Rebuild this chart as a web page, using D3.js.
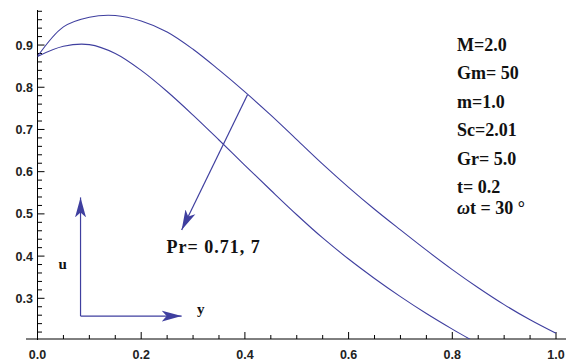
<!DOCTYPE html>
<html>
<head>
<meta charset="utf-8">
<script src="https://cdn.jsdelivr.net/npm/d3@7"></script>
<style>
  body { margin: 0; background: #fff; }
  svg { display: block; }
</style>
</head>
<body>
<div id="chart"></div>
<script>
// data
var yGrid = [0, 0.05, 0.1, 0.15, 0.2, 0.25, 0.3, 0.35, 0.4, 0.45, 0.5,
             0.55, 0.6, 0.65, 0.7, 0.75, 0.8, 0.85, 0.9, 0.95, 1.0];
var uPr071 = [0.873, 0.943, 0.966, 0.970, 0.957, 0.931, 0.890, 0.841, 0.789, 0.734, 0.676,
              0.618, 0.563, 0.511, 0.462, 0.414, 0.368, 0.325, 0.285, 0.249, 0.217];
var uPr7 = [0.873, 0.897, 0.901, 0.880, 0.840, 0.790, 0.734, 0.675, 0.615, 0.556, 0.498,
            0.443, 0.393, 0.347, 0.304, 0.264, 0.227, 0.192];
var xTicks = [0, 0.2, 0.4, 0.6, 0.8, 1.0];
var yTicks = [0.3, 0.4, 0.5, 0.6, 0.7, 0.8, 0.9];
var params = ['M=2.0', 'Gm= 50', 'm=1.0', 'Sc=2.01', 'Gr= 5.0', 't= 0.2'];

// annotation anchor points, in data units
var prArrow = [[0.405, 0.782], [0.278, 0.462]];
var uArrow = [[0.083, 0.258], [0.083, 0.539]];
var yArrow = [[0.083, 0.258], [0.278, 0.258]];

var W = 568, H = 363;
var margin = {top: 10, right: 12, bottom: 24, left: 37.5};

var x = d3.scaleLinear().domain([0, 1]).range([margin.left, W - margin.right]);
var y = d3.scaleLinear().domain([0.2036, 0.983]).range([H - margin.bottom, margin.top]);

var svg = d3.select('#chart').append('svg')
    .attr('width', W)
    .attr('height', H);

var curveColor = '#3f3f9f';

svg.append('defs').append('clipPath')
    .attr('id', 'plotClip')
    .append('rect')
    .attr('x', margin.left)
    .attr('y', margin.top)
    .attr('width', W - margin.left - margin.right + 2)
    .attr('height', H - margin.top - margin.bottom);

var head = svg.select('defs').append('marker')
    .attr('id', 'head')
    .attr('markerUnits', 'userSpaceOnUse')
    .attr('viewBox', '-20 -7 22 14')
    .attr('markerWidth', 22)
    .attr('markerHeight', 14)
    .attr('refX', 0)
    .attr('refY', 0)
    .attr('orient', 'auto');
head.append('path')
    .attr('d', 'M0,0 L-20,-5.5 L-15,0 L-20,5.5 Z')
    .style('fill', curveColor);

//Axes
var axisY = H - margin.bottom;
svg.append('line')
    .attr('x1', 26).attr('x2', 566)
    .attr('y1', axisY).attr('y2', axisY)
    .style('stroke', '#000').style('stroke-width', 1);
svg.append('line')
    .attr('x1', x(0)).attr('x2', x(0))
    .attr('y1', margin.top).attr('y2', axisY + 1)
    .style('stroke', '#000').style('stroke-width', 1);

var xMinor = d3.range(0, 1.0001, 0.05);
svg.selectAll('.xtick')
    .data(xMinor)
    .enter()
    .append('line')
    .attr('x1', function(d){ return x(d); })
    .attr('x2', function(d){ return x(d); })
    .attr('y1', axisY)
    .attr('y2', function(d, i){ return axisY - (i % 4 === 0 ? 7 : 4); })
    .style('stroke', '#000');

var yMinor = d3.range(0.22, 0.981, 0.02);
svg.selectAll('.ytick')
    .data(yMinor)
    .enter()
    .append('line')
    .attr('y1', function(d){ return y(d); })
    .attr('y2', function(d){ return y(d); })
    .attr('x1', x(0))
    .attr('x2', function(d){
        var major = Math.abs(Math.round(d * 10) - d * 10) < 1e-6;
        return x(0) + (major ? 7 : 4.5);
    })
    .style('stroke', '#000');

svg.selectAll('.xlabel')
    .data(xTicks)
    .enter()
    .append('text')
    .attr('x', function(d){ return x(d); })
    .attr('y', 359)
    .attr('text-anchor', 'middle')
    .style('font-family', 'Liberation Sans, Arial, sans-serif')
    .style('font-weight', 700)
    .style('font-size', '12.5px')
    .style('fill', '#222')
    .text(function(d){ return d3.format('.1f')(d); });

svg.selectAll('.ylabel')
    .data(yTicks)
    .enter()
    .append('text')
    .attr('x', x(0) - 4.5)
    .attr('y', function(d){ return y(d) + 4.5; })
    .attr('text-anchor', 'end')
    .style('font-family', 'Liberation Sans, Arial, sans-serif')
    .style('font-weight', 700)
    .style('font-size', '12.5px')
    .style('fill', '#222')
    .text(function(d){ return d3.format('.1f')(d); });

//Curves
var line = d3.line()
    .x(function(d){ return x(d[0]); })
    .y(function(d){ return y(d[1]); })
    .curve(d3.curveCatmullRom.alpha(0.5));

[uPr071, uPr7].forEach(function(series){
    var pts = series.map(function(v, i){ return [yGrid[i], v]; });
    svg.append('path')
        .attr('d', line(pts))
        .attr('clip-path', 'url(#plotClip)')
        .style('fill', 'none')
        .style('stroke', curveColor)
        .style('stroke-width', 1.1);
});

//Arrows
function arrow(p){
    svg.append('line')
        .attr('x1', x(p[0][0])).attr('y1', y(p[0][1]))
        .attr('x2', x(p[1][0])).attr('y2', y(p[1][1]))
        .attr('marker-end', 'url(#head)')
        .style('stroke', curveColor)
        .style('stroke-width', 1.2);
}
arrow(prArrow);
arrow(uArrow);
arrow(yArrow);

var serif = 'Liberation Serif, Times New Roman, serif';

svg.append('text')
    .attr('x', 166.5)
    .attr('y', 253)
    .style('font-family', serif)
    .style('font-weight', 700)
    .style('font-size', '18px')
    .style('letter-spacing', '1px')
    .style('fill', '#111')
    .text('Pr= 0.71, 7');

svg.append('text')
    .attr('x', 58.5)
    .attr('y', 269)
    .style('font-family', serif)
    .style('font-weight', 700)
    .style('font-size', '15px')
    .style('fill', '#111')
    .text('u');

svg.append('text')
    .attr('x', 197)
    .attr('y', 314)
    .style('font-family', serif)
    .style('font-weight', 700)
    .style('font-size', '15px')
    .style('fill', '#111')
    .text('y');

//Parameter list
svg.selectAll('.param')
    .data(params)
    .enter()
    .append('text')
    .attr('x', 457)
    .attr('y', function(d, i){ return 50.5 + i * 28.5; })
    .style('font-family', serif)
    .style('font-weight', 700)
    .style('font-size', '18px')
    .style('fill', '#111')
    .text(function(d){ return d; });

var wt = svg.append('text')
    .attr('x', 457)
    .attr('y', 214)
    .style('font-family', serif)
    .style('font-weight', 700)
    .style('font-size', '18px')
    .style('fill', '#111');
wt.append('tspan').style('font-style', 'italic').text('ω');
wt.append('tspan').text('t = 30 °');
</script>
</body>
</html>
